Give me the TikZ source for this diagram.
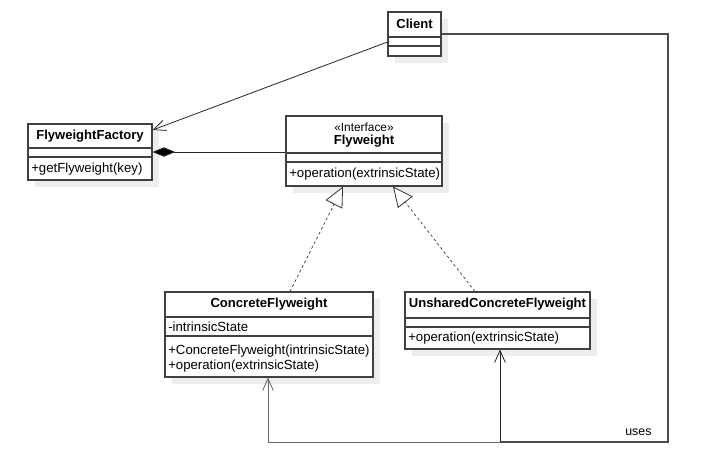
\documentclass[tikz,border=0pt]{standalone}
\usepackage{fontspec}
\setmainfont{Liberation Sans}
\usetikzlibrary{arrows.meta,fit}
\begin{document}
\begin{tikzpicture}[x=0.75pt,y=-0.75pt,
  umlbox/.style={draw=black!75, fill=white, inner sep=0pt, line width=0.8pt},
  shadowbox/.style={fill=black!7},
  sep/.style={draw=black!75, line width=0.8pt},
  title/.style={font=\fontsize{9.8}{11}\selectfont\bfseries, inner sep=0pt},
  stereo/.style={font=\fontsize{8.9}{10}\selectfont, inner sep=0pt},
  member/.style={font=\fontsize{9.9}{11}\selectfont, inner sep=0pt, anchor=west},
  assoc/.style={draw=black!85, line width=0.6pt},
  openv/.style={-{Straight Barb[length=9pt,width=8pt,line width=0.6pt]}},
  compo/.style={{Diamond[length=17pt,width=7pt,fill=black]}-},
  realize/.style={draw=black!80, line width=0.5pt, dash pattern=on 2pt off 2pt,
    -{Triangle[open,length=15pt,width=14pt,line width=0.6pt,fill=white]}},
  uses/.style={draw=black!70, line width=0.9pt}
]
\useasboundingbox (0,0) rectangle (707,472);
\fill[white] (0,0) rectangle (707,472);

% shadows
\fill[shadowbox] (395,19) rectangle (448,63);
\fill[shadowbox] (35,131) rectangle (159,187);
\fill[shadowbox] (293,123) rectangle (449,193);
\fill[shadowbox] (172,299) rectangle (380,384);
\fill[shadowbox] (412,299) rectangle (597,356);

% Client
\node[umlbox, fit={(388,12) (441,56)}] (client) {};
\draw[sep] (388,37) -- (441,37);
\draw[sep] (388,46) -- (441,46);
\node[title] (clientname) at (414.5,24) {Client};

% FlyweightFactory
\node[umlbox, fit={(28,124) (152,180)}] (factory) {};
\draw[sep] (28,148) -- (152,148);
\draw[sep] (28,157) -- (152,157);
\node[title] (factoryname) at (90,136) {FlyweightFactory};
\node[member] (factoryop) at (31,169) {+getFlyweight(key)};

% Flyweight
\node[umlbox, fit={(286,116) (442,186)}] (flyweight) {};
\draw[sep] (286,153) -- (442,153);
\draw[sep] (286,162) -- (442,162);
\node[stereo] (flystereo) at (364,127) {«Interface»};
\node[title] (flyname) at (364,141.5) {Flyweight};
\node[member] (flyop) at (289,174.5) {+operation(extrinsicState)};

% ConcreteFlyweight
\node[umlbox, fit={(165,292) (373,377)}] (concrete) {};
\draw[sep] (165,317) -- (373,317);
\draw[sep] (165,336) -- (373,336);
\node[title] (concname) at (269,304.5) {ConcreteFlyweight};
\node[member] (concattr) at (168,326.5) {-intrinsicState};
\node[member] (concop1) at (168,351) {+ConcreteFlyweight(intrinsicState)};
\node[member] (concop2) at (168,366) {+operation(extrinsicState)};

% UnsharedConcreteFlyweight
\node[umlbox, fit={(405,292) (590,349)}] (unshared) {};
\draw[sep] (405,318) -- (590,318);
\draw[sep] (405,327) -- (590,327);
\node[title] (unsname) at (497.5,304.5) {UnsharedConcreteFlyweight};
\node[member] (unsop) at (408,338) {+operation(extrinsicState)};

% Client -> FlyweightFactory
\draw[assoc, openv] (client.west |- 0,42) -- (factory.east |- 0,130);

% composition
\draw[assoc, compo] (factory.east |- 0,152) -- (flyweight.west |- 0,152);

% realizations
\draw[realize] (concrete.north -| 290,0) -- (flyweight.south -| 343,0);
\draw[realize] (unshared.north -| 475,0) -- (flyweight.south -| 393,0);

% uses
\coordinate (corner) at (668,442);
\coordinate (split) at (500,442);
\draw[uses] (client.east |- 0,34) -| (corner) -- (split);
\draw[uses, draw=black!85, line width=0.6pt, openv] (split) -- (unshared.south -| 500,0);
\draw[assoc, draw=black!60, line width=0.7pt, openv] (split) -| (concrete.south -| 268,0);
\node[member, font=\fontsize{9.3}{11}\selectfont] (useslbl) at (625,432) {uses};
\end{tikzpicture}
\end{document}
